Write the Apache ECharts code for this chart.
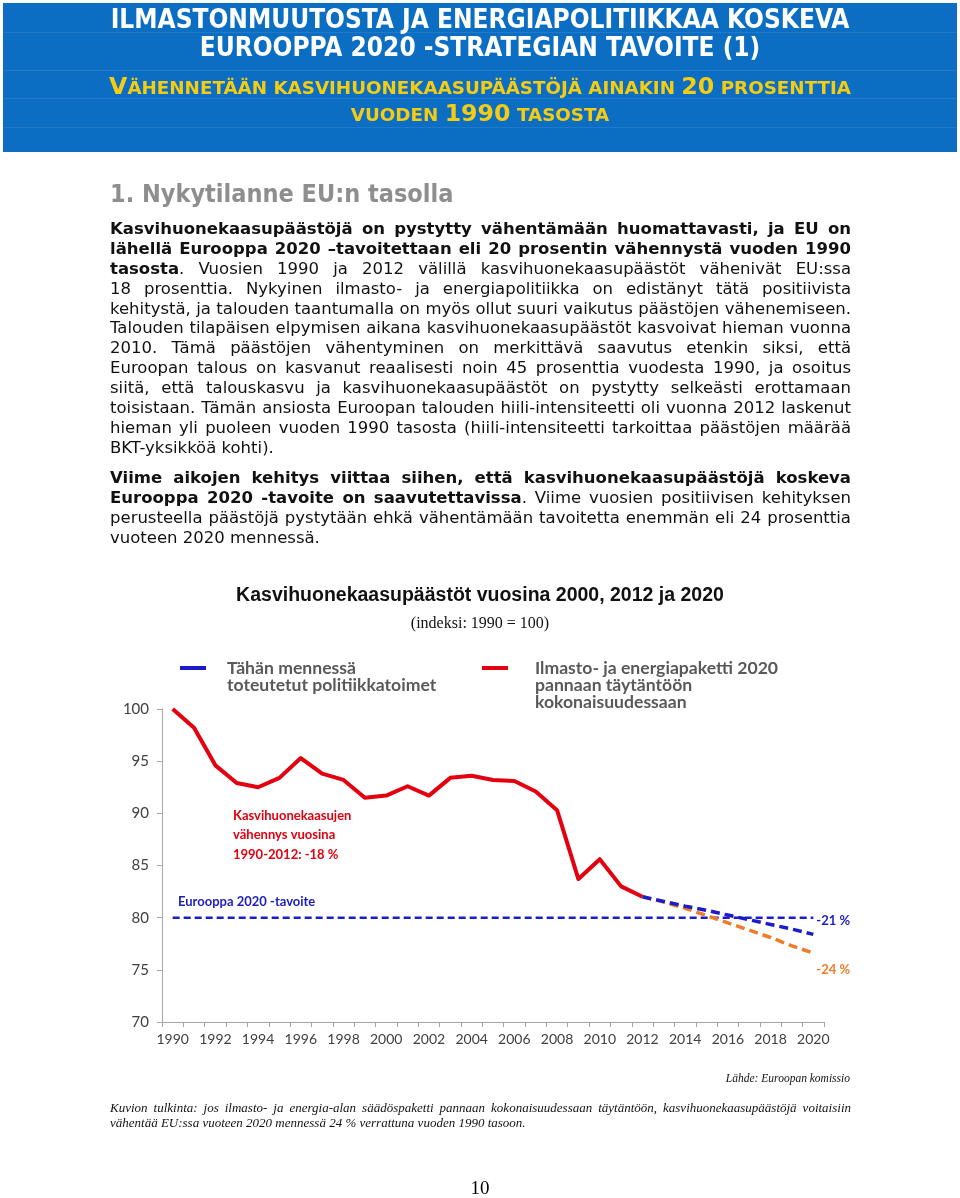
<!DOCTYPE html>
<html lang="fi">
<head>
<meta charset="UTF-8">
<title>Kasvihuonekaasupäästöt vuosina 2000, 2012 ja 2020</title>
<script src="https://cdn.jsdelivr.net/npm/echarts@6/dist/echarts.min.js"></script>
<style>
  body { margin: 0; background: #fff; }
  #page { position: relative; width: 960px; height: 1198px; overflow: hidden; }
  #chart { position: absolute; left: 0; top: 0; width: 960px; height: 1198px; }
  .abs { position: absolute; z-index: 2; }
  #header { left: 3px; top: 3px; width: 954px; height: 149px; background: #0b6ec3; z-index: 1; }
  .rule { position: absolute; left: 0; width: 954px; height: 1px; background: #2179c8; }
  .ttl { left: 0; width: 960px; text-align: center; color: #fff; font: bold 26px 'DejaVu Sans Condensed', sans-serif; line-height: 28px; }
  .sub { left: 0; width: 960px; text-align: center; color: #f5cc14; font: bold 18.3px 'DejaVu Sans', sans-serif; line-height: 28px; }
  .sub b { font-size: 23.7px; }
  #h1 { left: 110px; top: 179px; color: #8e8e8e; font: bold 25px 'DejaVu Sans Condensed', sans-serif; }
  .txt { left: 110px; width: 741px; font: 16.5px 'DejaVu Sans', sans-serif; color: #111; }
  .txt div { height: 19.9px; line-height: 19.9px; text-align: justify; text-align-last: justify; white-space: nowrap; }
  .txt div.last { text-align-last: left; }
  .cap { left: 110px; width: 741px; font: italic 13px 'Liberation Serif', serif; color: #111; }
  .cap div { height: 15px; line-height: 15px; text-align: justify; text-align-last: justify; white-space: nowrap; }
  .cap div.last { text-align-last: left; }
  #pnum { left: 0; width: 960px; top: 1177px; text-align: center; font: 19px 'Liberation Serif', serif; }
</style>
</head>
<body>
<div id="page">
  <div id="chart"></div>

  <div id="header" class="abs">
    <div class="rule" style="top:29px"></div>
    <div class="rule" style="top:67px"></div>
    <div class="rule" style="top:95px"></div>
    <div class="rule" style="top:124px"></div>
  </div>
  <div class="abs ttl" style="top:5px">ILMASTONMUUTOSTA JA ENERGIAPOLITIIKKAA KOSKEVA</div>
  <div class="abs ttl" style="top:33px">EUROOPPA 2020 -STRATEGIAN TAVOITE (1)</div>
  <div class="abs sub" style="top:72px"><b>V</b>ÄHENNETÄÄN KASVIHUONEKAASUPÄÄSTÖJÄ AINAKIN <b>20</b> PROSENTTIA</div>
  <div class="abs sub" style="top:99px">VUODEN <b>1990</b> TASOSTA</div>

  <div id="h1" class="abs">1. Nykytilanne EU:n tasolla</div>

  <div class="abs txt" style="top:219px">
    <div><b>Kasvihuonekaasupäästöjä on pystytty vähentämään huomattavasti, ja EU on</b></div>
    <div><b>lähellä Eurooppa 2020 –tavoitettaan eli 20 prosentin vähennystä vuoden 1990</b></div>
    <div><b>tasosta</b>. Vuosien 1990 ja 2012 välillä kasvihuonekaasupäästöt vähenivät EU:ssa</div>
    <div>18 prosenttia. Nykyinen ilmasto- ja energiapolitiikka on edistänyt tätä positiivista</div>
    <div>kehitystä, ja talouden taantumalla on myös ollut suuri vaikutus päästöjen vähenemiseen.</div>
    <div>Talouden tilapäisen elpymisen aikana kasvihuonekaasupäästöt kasvoivat hieman vuonna</div>
    <div>2010. Tämä päästöjen vähentyminen on merkittävä saavutus etenkin siksi, että</div>
    <div>Euroopan talous on kasvanut reaalisesti noin 45 prosenttia vuodesta 1990, ja osoitus</div>
    <div>siitä, että talouskasvu ja kasvihuonekaasupäästöt on pystytty selkeästi erottamaan</div>
    <div>toisistaan. Tämän ansiosta Euroopan talouden hiili-intensiteetti oli vuonna 2012 laskenut</div>
    <div>hieman yli puoleen vuoden 1990 tasosta (hiili-intensiteetti tarkoittaa päästöjen määrää</div>
    <div class="last">BKT-yksikköä kohti).</div>
  </div>

  <div class="abs txt" style="top:468px">
    <div><b>Viime aikojen kehitys viittaa siihen, että kasvihuonekaasupäästöjä koskeva</b></div>
    <div><b>Eurooppa 2020 -tavoite on saavutettavissa</b>. Viime vuosien positiivisen kehityksen</div>
    <div>perusteella päästöjä pystytään ehkä vähentämään tavoitetta enemmän eli 24 prosenttia</div>
    <div class="last">vuoteen 2020 mennessä.</div>
  </div>

  <div class="abs cap" style="top:1100px">
    <div>Kuvion tulkinta: jos ilmasto- ja energia-alan säädöspaketti pannaan kokonaisuudessaan täytäntöön, kasvihuonekaasupäästöjä voitaisiin</div>
    <div class="last">vähentää EU:ssa vuoteen 2020 mennessä 24 % verrattuna vuoden 1990 tasoon.</div>
  </div>

  <div id="pnum" class="abs">10</div>
</div>

<script type="text/javascript">
    // vuodet (kategoria-akseli)
    var years = ['1990', '1991', '1992', '1993', '1994', '1995', '1996', '1997', '1998', '1999',
                 '2000', '2001', '2002', '2003', '2004', '2005', '2006', '2007', '2008', '2009',
                 '2010', '2011', '2012', '2013', '2014', '2015', '2016', '2017', '2018', '2019', '2020'];

    // toteutuneet päästöt, indeksi 1990 = 100
    var historical = [100, 98.2, 94.6, 92.9, 92.5, 93.4, 95.3, 93.8, 93.2, 91.5,
                      91.7, 92.6, 91.7, 93.4, 93.6, 93.2, 93.1, 92.1, 90.3, 83.7,
                      85.6, 83.0, 82.0];

    // ennuste: tähän mennessä toteutetut politiikkatoimet
    var currentPolicies = [null, null, null, null, null, null, null, null, null, null,
                           null, null, null, null, null, null, null, null, null, null,
                           null, null, 82.0, 81.55, 81.1, 80.7, 80.25, 79.8, 79.35, 78.9, 78.4];

    // ennuste: ilmasto- ja energiapaketti kokonaisuudessaan
    var fullPackage = [null, null, null, null, null, null, null, null, null, null,
                       null, null, null, null, null, null, null, null, null, null,
                       null, null, 82.0, 81.5, 80.9, 80.2, 79.5, 78.8, 78.1, 77.3, 76.6];

    // Eurooppa 2020 -tavoite
    var target = [80, 80, 80, 80, 80, 80, 80, 80, 80, 80,
                  80, 80, 80, 80, 80, 80, 80, 80, 80, 80,
                  80, 80, 80, 80, 80, 80, 80, 80, 80, 80, 80];

    var endLabels = ['-21 %', '-24 %'];

    var policyName = 'Tähän mennessä toteutetut politiikkatoimet';
    var packageName = 'Ilmasto- ja energiapaketti 2020 pannaan täytäntöön kokonaisuudessaan';

    var calib = "Lato, 'DejaVu Sans Condensed', sans-serif";

    var dom = document.getElementById('chart');
    var myChart = echarts.init(dom);

    var option = {
        animation: false,
        backgroundColor: '#fff',
        title: [{
            text: 'Kasvihuonekaasupäästöt vuosina 2000, 2012 ja 2020',
            left: 'center',
            top: 581,
            textStyle: { fontFamily: "'Liberation Sans', Arial, sans-serif", fontWeight: 'bold', fontSize: 19.5, color: '#111' }
        }, {
            text: '(indeksi: 1990 = 100)',
            left: 'center',
            top: 611,
            textStyle: { fontFamily: "'Liberation Serif', serif", fontWeight: 'normal', fontSize: 16, color: '#111' }
        }, {
            text: 'Lähde: Euroopan komissio',
            right: 105,
            top: 1068,
            textStyle: { fontFamily: "'Liberation Serif', serif", fontStyle: 'italic', fontWeight: 'normal', fontSize: 11.5, color: '#111' }
        }],
        //selitteet: tyhjät rivit alussa, jotta viiva osuu ensimmäiselle riville
        legend: [{
            data: [policyName],
            left: 180,
            top: 642,
            padding: 0,
            icon: 'rect',
            itemWidth: 26,
            itemHeight: 4,
            selectedMode: false,
            formatter: function () { return '\nTähän mennessä\ntoteutetut politiikkatoimet'; },
            textStyle: { fontFamily: calib, fontWeight: 'bold', fontSize: 17.6, lineHeight: 17, color: '#595959', padding: [0, 0, 0, 16] }
        }, {
            data: [packageName],
            left: 482,
            top: 625,
            padding: 0,
            icon: 'rect',
            itemWidth: 26,
            itemHeight: 4,
            selectedMode: false,
            formatter: function () { return '\n\nIlmasto- ja energiapaketti 2020\npannaan täytäntöön\nkokonaisuudessaan'; },
            textStyle: { fontFamily: calib, fontWeight: 'bold', fontSize: 17.6, lineHeight: 17, color: '#595959', padding: [0, 0, 0, 22] }
        }],
        grid: { left: 162, right: 136, top: 709, bottom: 176 },
        xAxis: {
            type: 'category',
            data: years,
            boundaryGap: true,
            axisLine: { lineStyle: { color: '#a6a6a6', width: 1 } },
            axisTick: { show: true, interval: 0, length: 5, lineStyle: { color: '#a6a6a6' } },
            axisLabel: { interval: 1, margin: 10, fontFamily: calib, fontSize: 14, color: '#404040' }
        },
        yAxis: {
            type: 'value',
            min: 70,
            max: 100,
            interval: 5,
            axisLine: { show: true, lineStyle: { color: '#a6a6a6', width: 1 } },
            axisTick: { show: true, length: 5, lineStyle: { color: '#a6a6a6' } },
            splitLine: { show: false },
            axisLabel: { margin: 13, fontFamily: calib, fontSize: 15, color: '#404040' }
        },
        graphic: [{
            type: 'text',
            left: 233,
            top: 806,
            style: {
                text: 'Kasvihuonekaasujen\nvähennys vuosina\n1990-2012: -18 %',
                font: "bold 13px " + calib,
                lineHeight: 19.5,
                fill: '#e3000f'
            }
        }, {
            type: 'text',
            left: 178,
            top: 895,
            style: {
                text: 'Eurooppa 2020 -tavoite',
                font: "bold 13px " + calib,
                fill: '#1c1cbe'
            }
        }],
        series: [{
            name: 'Eurooppa 2020 -tavoite',
            type: 'line',
            data: target,
            symbol: 'none',
            z: 2,
            lineStyle: { color: '#1c1cc8', width: 2.5, type: [7, 4] }
        }, {
            name: packageName,
            type: 'line',
            data: historical,
            symbol: 'none',
            z: 3,
            itemStyle: { color: '#e3000f' },
            lineStyle: { color: '#e3000f', width: 4, join: 'round' }
        }, {
            name: 'Ennuste (paketti)',
            type: 'line',
            data: fullPackage,
            symbol: 'none',
            z: 4,
            lineStyle: { color: '#f07b2a', width: 3.5, type: [9, 5] },
            endLabel: {
                show: true,
                formatter: endLabels[1],
                offset: [0, 17],
                distance: 3,
                fontFamily: calib,
                fontWeight: 'bold',
                fontSize: 13,
                color: '#f07b2a'
            }
        }, {
            name: policyName,
            type: 'line',
            data: currentPolicies,
            symbol: 'none',
            z: 5,
            itemStyle: { color: '#1c1cc8' },
            lineStyle: { color: '#1c1cc8', width: 3.5, type: [9, 5] },
            endLabel: {
                show: true,
                formatter: endLabels[0],
                offset: [0, -14],
                distance: 3,
                fontFamily: calib,
                fontWeight: 'bold',
                fontSize: 13,
                color: '#1c1cc8'
            }
        }]
    };

    if (option && typeof option === 'object') {
        myChart.setOption(option, true);
    }
</script>
</body>
</html>
